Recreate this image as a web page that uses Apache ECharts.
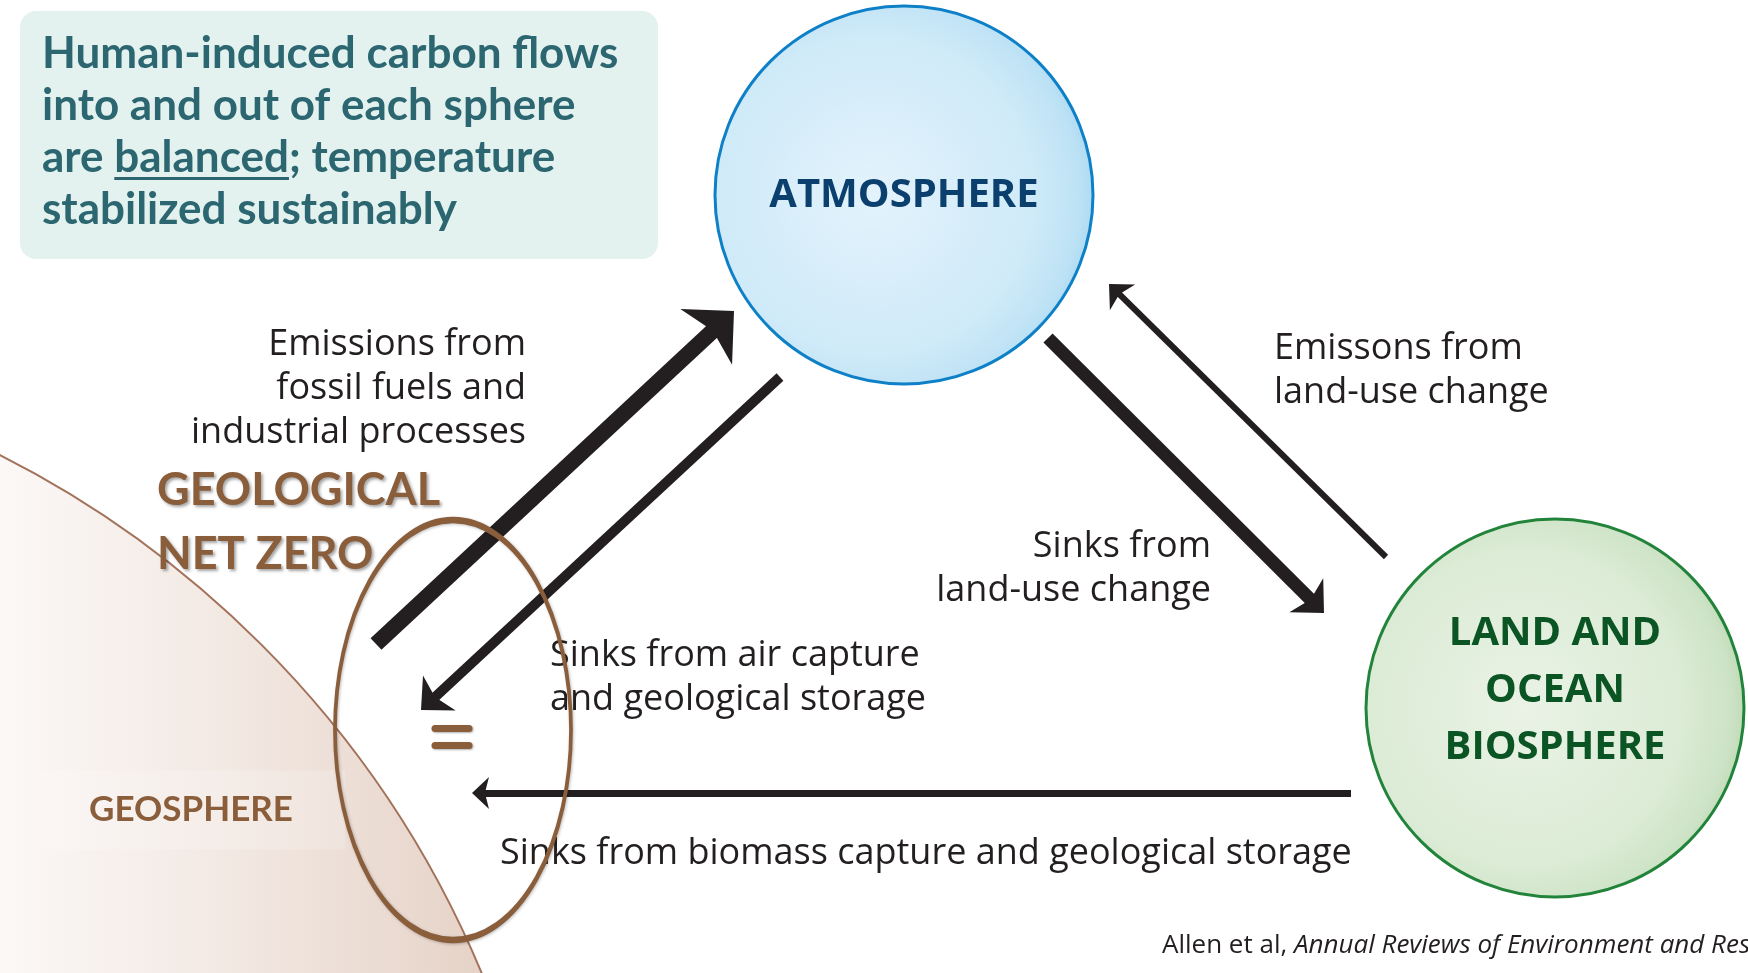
<!DOCTYPE html>
<html>
<head>
<meta charset="utf-8">
<title>Geological net zero</title>
<script src="https://cdn.jsdelivr.net/npm/echarts@6/dist/echarts.min.js"></script>
<style>
  html, body { margin: 0; padding: 0; background: #fff; }
  #main { width: 1748px; height: 973px; }
</style>
</head>
<body>
<div id="main"></div>
<script>
// diagram space is the page itself: x to the right, y downwards
var headline = ['Human-induced carbon flows', 'into and out of each sphere', 'are balanced; temperature', 'stabilized sustainably']
var underlined = 'balanced'

var sphereNames = ['ATMOSPHERE', 'LAND AND\nOCEAN\nBIOSPHERE']
var sphereCenters = [[904, 195], [1555, 708]]
var sphereRadius = [189, 189]

var geoCenter = [-462, 1368]
var geoRadius = 1023
var geoName = 'GEOSPHERE'
var geoNamePos = [191, 810]

var netZeroName = 'GEOLOGICAL\nNET ZERO'
var netZeroPos = [157, 522]
var netZeroRing = [453, 730]
var netZeroRingSize = [236, 420]
var equalsBars = [[[435, 728], [469, 728]], [[435, 745], [469, 745]]]

// flows: tail, arrow tip, relative size of the flow
var flowNames = [
  'Emissions from\nfossil fuels and\nindustrial processes',
  'Sinks from air capture\nand geological storage',
  'Sinks from\nland-use change',
  'Emissons from\nland-use change',
  'Sinks from biomass capture and geological storage'
]
var flowTails = [[376, 644], [780, 377], [1048, 338], [1386, 557], [1351, 793]]
var flowTips = [[734, 311], [421, 710], [1324, 613], [1109, 284], [472, 793]]
var flowWeight = [16, 10, 13, 6, 7]
var flowHeads = [[76, 38], [48, 25], [48, 25], [36, 19], [32, 17]]
var flowLabelPos = [[526, 389], [550, 678], [1211, 569], [1274, 371], [500, 854]]
var flowLabelAlign = ['right', 'left', 'right', 'left', 'left']

var citation = ['Allen et al, ', 'Annual Reviews of Environment and Resources']
var citationPos = [1162, 946]

var ink = '#231f20'
var brown = '#8a5d3b'
var arrowPath = 'path://M50,0L100,100L50,76L0,100Z'

function backOff(from, tip, len) {
  var dx = tip[0] - from[0], dy = tip[1] - from[1]
  var d = Math.sqrt(dx * dx + dy * dy)
  return [tip[0] - dx / d * len, tip[1] - dy / d * len]
}

function heading(from, tip) {
  // degrees, counter-clockwise, 0 = up
  return Math.atan2(from[1] - tip[1], tip[0] - from[0]) * 180 / Math.PI - 90
}

function textWidth(text, font) {
  var ctx = document.createElement('canvas').getContext('2d')
  ctx.font = font
  return ctx.measureText(text).width
}

var chart = echarts.init(document.getElementById('main'))

var titleFont = 'bold 44px Lato'
var ulLine = headline[2]
var ulX = 42 + textWidth(ulLine.slice(0, ulLine.indexOf(underlined)), titleFont)
var ulW = textWidth(underlined, titleFont)

var shaftData = flowNames.map(function(name, i) {
  return {
    name: name,
    coords: [flowTails[i], backOff(flowTails[i], flowTips[i], flowHeads[i][1] * 0.6)],
    lineStyle: { width: flowWeight[i] }
  }
})

var headData = flowNames.map(function(name, i) {
  return {
    name: name,
    value: backOff(flowTails[i], flowTips[i], flowHeads[i][1] / 2),
    symbolSize: flowHeads[i],
    symbolRotate: heading(flowTails[i], flowTips[i])
  }
})

var option = {
  animation: false,
  grid: { left: 0, right: 0, top: 0, bottom: 0 },
  xAxis: { type: 'value', min: 0, max: 1748, show: false },
  yAxis: { type: 'value', min: 0, max: 973, inverse: true, show: false },
  graphic: [
    {
      type: 'rect', z: 10,
      shape: { x: 20, y: 11, width: 638, height: 248, r: 16 },
      style: { fill: '#e3f2ef' }
    },
    {
      type: 'text', z: 11, x: 42, y: 28,
      style: { text: headline.join('\n'), font: titleFont, lineHeight: 52, fill: '#2c6670' }
    },
    {
      type: 'rect', z: 11,
      shape: { x: ulX, y: 177, width: ulW, height: 3 },
      style: { fill: '#2c6670' }
    }
  ],
  series: [
    {
      // geosphere, a huge circle mostly off the page; only its right rim shows
      type: 'scatter', silent: true, clip: false, z: 1,
      symbol: 'circle',
      data: [{ value: geoCenter, symbolSize: geoRadius * 2 }],
      itemStyle: {
        opacity: 1,
        color: new echarts.graphic.LinearGradient(0, 0, 1, 0, [
          { offset: 0, color: '#ffffff' },
          { offset: 0.72, color: '#fcf9f8' },
          { offset: 0.84, color: '#f2e8e2' },
          { offset: 0.96, color: '#e6d3c8' },
          { offset: 1, color: '#e0cbbf' }
        ]),
        borderColor: '#a3725a',
        borderWidth: 2
      }
    },
    {
      type: 'scatter', silent: true, clip: false, z: 2,
      symbolSize: 1,
      itemStyle: { color: 'rgba(0,0,0,0)', opacity: 1 },
      data: [{ value: geoNamePos, name: geoName }],
      label: {
        show: true, position: 'inside', formatter: '{b}',
        color: brown, fontFamily: 'Lato', fontWeight: 'bold', fontSize: 35,
        backgroundColor: 'rgba(255,255,255,0.18)', padding: [22, 52]
      }
    },
    {
      type: 'scatter', silent: true, clip: false, z: 3,
      symbol: 'circle',
      itemStyle: { opacity: 1 },
      data: [
        {
          value: sphereCenters[0], name: sphereNames[0], symbolSize: sphereRadius[0] * 2,
          itemStyle: {
            color: new echarts.graphic.RadialGradient(0.42, 0.5, 0.6, [
              { offset: 0, color: '#e3f3fc' },
              { offset: 0.7, color: '#cfeaf8' },
              { offset: 0.9, color: '#bde2f5' },
              { offset: 1, color: '#a5d6f0' }
            ]),
            borderColor: '#0d80c8', borderWidth: 3
          },
          label: { color: '#0b3f6e', fontSize: 40, offset: [0, 1] }
        },
        {
          value: sphereCenters[1], name: sphereNames[1], symbolSize: sphereRadius[1] * 2,
          itemStyle: {
            color: new echarts.graphic.RadialGradient(0.42, 0.5, 0.6, [
              { offset: 0, color: '#eaf3e6' },
              { offset: 0.7, color: '#dbebd5' },
              { offset: 0.9, color: '#cde3c6' },
              { offset: 1, color: '#b9d7b0' }
            ]),
            borderColor: '#22843a', borderWidth: 3
          },
          label: { color: '#0b5424', fontSize: 40, lineHeight: 57, offset: [0, -17] }
        }
      ],
      label: {
        show: true, position: 'inside', formatter: '{b}',
        fontFamily: 'Open Sans', fontWeight: 'bold'
      }
    },
    {
      type: 'lines', coordinateSystem: 'cartesian2d', silent: true, z: 4,
      symbol: 'none',
      lineStyle: { color: ink, opacity: 1, cap: 'butt' },
      data: shaftData
    },
    {
      type: 'scatter', silent: true, clip: false, z: 4,
      symbol: arrowPath,
      itemStyle: { color: ink, opacity: 1 },
      data: headData
    },
    {
      type: 'scatter', silent: true, clip: false, z: 5,
      symbolSize: 1,
      itemStyle: { color: 'rgba(0,0,0,0)', opacity: 1 },
      data: flowNames.map(function(name, i) {
        return { value: flowLabelPos[i], name: name, label: { align: flowLabelAlign[i] } }
      }).concat([{
        value: citationPos,
        name: citation[0],
        label: {
          align: 'left',
          formatter: '{a|' + citation[0] + '}{i|' + citation[1] + '}',
          rich: {
            a: { fontFamily: 'Open Sans', fontSize: 26, color: ink },
            i: { fontFamily: 'Open Sans', fontSize: 26, fontStyle: 'italic', color: ink }
          }
        }
      }]),
      label: {
        show: true, position: 'inside', formatter: '{b}', verticalAlign: 'middle',
        color: ink, fontFamily: 'Open Sans', fontSize: 36, lineHeight: 44
      }
    },
    {
      type: 'scatter', silent: true, clip: false, z: 6,
      symbolSize: 1,
      itemStyle: { color: 'rgba(0,0,0,0)', opacity: 1 },
      data: [{ value: netZeroPos, name: netZeroName }],
      label: {
        show: true, position: 'inside', formatter: '{b}', align: 'left',
        color: brown, fontFamily: 'Lato', fontWeight: 'bold', fontSize: 45, lineHeight: 64,
        textShadowColor: 'rgba(0,0,0,0.35)', textShadowBlur: 3, textShadowOffsetX: 2, textShadowOffsetY: 2
      }
    },
    {
      // the "=" between the two geological flows
      type: 'lines', coordinateSystem: 'cartesian2d', silent: true, z: 7,
      lineStyle: {
        color: brown, width: 7, opacity: 1, cap: 'round',
        shadowColor: 'rgba(0,0,0,0.3)', shadowBlur: 2, shadowOffsetX: 1, shadowOffsetY: 1
      },
      data: equalsBars.map(function(c) { return { coords: c } })
    },
    {
      type: 'scatter', silent: true, clip: false, z: 8,
      symbol: 'circle',
      data: [{ value: netZeroRing, symbolSize: netZeroRingSize }],
      itemStyle: {
        opacity: 1,
        color: 'rgba(0,0,0,0)', borderColor: brown, borderWidth: 5,
        shadowColor: 'rgba(0,0,0,0.25)', shadowBlur: 3, shadowOffsetX: 1, shadowOffsetY: 1
      }
    }
  ]
}

chart.setOption(option)
</script>
</body>
</html>
